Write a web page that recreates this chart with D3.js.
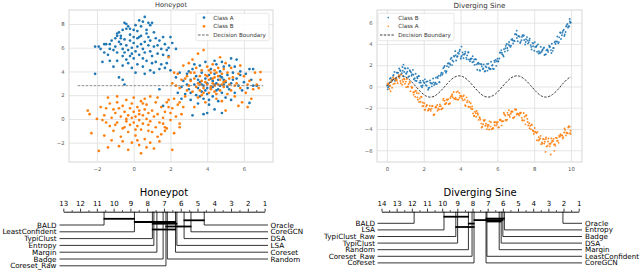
<!DOCTYPE html>
<html><head><meta charset="utf-8">
<script src="https://cdn.jsdelivr.net/npm/d3@7"></script>
<style>body{margin:0;background:#fff}svg{display:block}text{font-family:"DejaVu Sans",sans-serif}</style>
</head><body><svg id="c" width="640" height="271"></svg>
<script>
// ---------------- DATA ----------------
const honeypotTitle = "Honeypot";
const sineTitle = "Diverging Sine";
const honeypotXTicks = [-2, 0, 2, 4, 6];
const honeypotYTicks = [-2, 0, 2, 4, 6, 8];
const sineXTicks = [0, 2, 4, 6, 8, 10];
const sineYTicks = [-6, -4, -2, 0, 2, 4, 6];

const honeypotClassA = [
[-1.9,6.1],[-1.5,6.3],[-1.3,6.3],[-1.6,5.6],[-1.4,5.4],[-1.3,4.9],[-1.7,4.8],[-2.1,3.8],[-1.1,5.8],[-1.0,6.8],[-0.9,7.2],[-0.8,7.3],[-0.7,7.0],[-0.6,7.5],[-0.5,8.1],[-0.4,7.6],[-0.3,7.8],[-0.2,7.1],[0.0,7.5],[0.1,7.9],[0.2,7.4],[0.4,7.8],[0.5,8.2],[0.6,8.6],[0.8,8.1],[0.9,7.9],[1.0,8.1],[0.7,7.5],[0.3,6.9],[1.1,7.3],[1.2,6.8],[1.4,6.6],[1.6,6.9],[1.7,6.3],[1.9,6.0],[2.1,6.4],[2.3,5.9],[1.5,5.9],[1.3,5.5],[1.1,6.1],[0.9,6.6],[0.8,6.2],[0.6,6.5],[0.5,5.9],[0.4,6.3],[0.2,6.1],[0.1,5.7],[0.0,6.4],[-0.1,6.0],[-0.2,6.6],[-0.3,5.8],[-0.4,6.2],[-0.5,6.7],[-0.6,5.9],[-0.7,6.3],[-0.8,6.5],[-0.9,5.6],[-1.0,6.1],[-1.2,6.6],[-0.6,5.3],[-0.4,5.0],[-0.2,5.3],[0.0,5.1],[0.3,5.4],[0.5,5.1],[0.7,4.9],[1.0,5.3],[1.2,4.8],[1.5,4.6],[1.7,4.3],[1.8,4.7],[1.4,4.2],[0.9,4.1],[0.5,4.4],[0.2,4.6],[-0.1,4.3],[-0.3,4.7],[-0.6,4.5],[-0.9,4.9],[-1.1,4.4],[-0.8,3.5],[-0.6,3.3],[0.1,3.9],[0.6,3.8],[1.1,3.9],[-0.5,2.9],[1.6,5.4],[1.9,5.3],[2.0,6.9],[1.8,5.8],[-1.8,5.9],[-2.1,6.1],[-1.6,6.3],[-0.4,8.0],[0.3,8.3],[0.7,7.2],[-0.2,7.6],[0.4,7.0],[-0.7,6.8],[0.9,5.7],[0.2,6.8],[-0.1,5.5],[0.6,5.6],[1.3,6.2],[-0.9,7.0],[-1.3,5.9],[0.0,6.9],[0.8,6.9],[-0.5,5.6],[1.0,4.7],
[2.0,4.1],[2.3,3.5],[2.5,3.9],[2.6,2.7],[2.7,3.2],[2.8,2.1],[2.9,3.8],[3.0,2.5],[3.1,1.6],[3.1,3.3],[3.2,4.2],[3.3,2.9],[3.4,2.0],[3.4,3.6],[3.5,1.3],[3.5,2.6],[3.6,4.5],[3.6,3.1],[3.7,2.3],[3.7,3.9],[3.8,1.7],[3.8,2.8],[3.9,3.4],[3.9,4.8],[4.0,2.1],[4.0,3.0],[4.1,3.7],[4.1,1.2],[4.2,2.6],[4.2,4.2],[4.3,3.2],[4.3,1.9],[4.4,2.9],[4.4,3.8],[4.5,2.4],[4.5,4.6],[4.6,3.3],[4.6,1.5],[4.7,2.8],[4.7,4.0],[4.8,3.5],[4.8,2.2],[4.9,2.9],[4.9,4.4],[5.0,3.1],[5.0,1.8],[5.1,3.7],[5.2,2.5],[5.2,4.5],[5.3,3.0],[5.4,3.9],[5.5,2.2],[5.6,3.4],[5.7,2.8],[5.8,4.0],[6.0,3.1],[6.2,2.6],[6.4,3.3],[5.3,5.1],[5.6,5.0],[6.3,1.35],[6.3,4.2],[3.2,0.3],[3.8,0.4],[4.4,0.8],[4.8,0.5],[2.4,2.2],[1.4,2.5],[1.6,1.1],[3.0,4.0],[3.3,4.6],[4.2,3.4],[4.0,2.6],[3.7,2.9],[4.5,3.0],[4.3,2.7],[4.6,2.5],[3.9,2.4],[4.9,3.3],[5.1,2.7],[5.4,3.3],[5.9,2.4],[6.5,2.8],[3.5,3.3],[4.1,1.6],[3.6,1.9],[2.9,2.9],[4.7,3.6],[5.3,1.6],[5.8,3.7],[4.4,4.9],[4.8,4.8],[3.1,2.2],[2.6,1.7],[5.5,4.4],[6.1,3.8],[6.5,4.2],[6.7,2.8],[4.0,0.5]
];
const honeypotClassB = [
[-2.5,0.7],[-2.4,0.4],[-2.3,-1.2],[-1.7,-0.1],[-1.6,0.3],[-1.5,0.9],[-1.4,1.8],[-1.3,-0.6],[-1.2,0.1],[-1.1,-1.0],[-1.0,0.5],[-0.9,1.4],[-0.9,-0.3],[-0.8,0.9],[-0.7,-1.5],[-0.7,0.2],[-0.6,1.1],[-0.5,-0.7],[-0.5,0.6],[-0.4,1.6],[-0.4,-0.2],[-0.3,0.3],[-0.3,-1.1],[-0.2,0.9],[-0.2,-0.5],[-0.1,0.1],[-0.1,1.3],[0.0,-0.3],[0.0,0.6],[0.1,-1.4],[0.1,0.2],[0.2,1.0],[0.2,-0.6],[0.3,0.4],[0.3,-0.1],[0.4,1.5],[0.4,-0.9],[0.5,0.3],[0.5,-0.4],[0.6,0.8],[0.6,-1.7],[0.7,0.0],[0.7,1.2],[0.8,-0.5],[0.8,0.5],[0.9,1.9],[0.9,-0.2],[1.0,0.7],[1.0,-1.1],[1.1,0.2],[1.2,1.4],[1.2,-0.7],[1.3,0.4],[1.4,-0.3],[1.5,1.0],[1.5,-1.3],[1.6,0.1],[1.7,0.6],[1.8,-0.8],[1.9,1.6],[2.0,-0.1],[2.1,0.9],[2.3,0.2],[2.5,-0.4],[2.5,-0.7],[2.1,-2.6],[-1.9,-2.7],[-1.4,-2.4],[-0.8,-2.3],[-0.3,-2.6],[-0.1,-2.0],[0.3,-2.2],[0.4,-2.9],[0.7,-2.4],[1.1,-2.5],[1.4,-1.9],[0.9,-2.0],[-1.2,-1.8],[-1.6,-1.4],[-0.6,-1.9],[0.2,-1.8],[1.3,-1.5],[1.7,-1.0],[2.2,-1.2],[-1.8,1.0],[-1.3,1.3],[-0.9,1.9],[0.0,1.8],[0.6,1.7],[1.3,1.8],[1.8,1.4],[2.2,1.7],[2.4,1.2],[-2.0,0.0],[-1.5,-0.3],[-1.0,-0.5],[-0.4,0.0],[0.3,0.7],[0.8,-1.0],[1.6,-0.4],[2.0,0.5],[-0.6,-0.8],[0.1,-0.9],[0.5,1.3],[-1.1,0.8],[1.9,1.0],[2.7,1.0],[2.6,0.4],
[1.9,5.2],[2.2,3.9],[2.1,3.0],[2.4,3.8],[2.5,2.6],[2.6,3.3],[2.7,4.5],[2.8,1.9],[2.9,3.6],[3.0,2.8],[3.0,4.7],[3.1,3.2],[3.2,2.3],[3.2,5.0],[3.3,3.9],[3.4,2.7],[3.4,4.3],[3.5,3.0],[3.5,1.8],[3.6,3.6],[3.6,2.4],[3.7,4.1],[3.7,3.2],[3.8,5.8],[3.8,2.6],[3.9,3.7],[3.9,1.4],[4.0,4.4],[4.0,2.9],[4.1,3.3],[4.1,2.2],[4.2,3.9],[4.2,2.7],[4.3,4.6],[4.3,3.0],[4.4,2.3],[4.4,3.5],[4.5,1.7],[4.5,3.9],[4.6,2.9],[4.6,4.3],[4.7,2.4],[4.7,3.3],[4.8,1.5],[4.8,3.8],[4.9,2.7],[4.9,4.2],[5.0,3.2],[5.1,2.1],[5.1,3.9],[5.2,2.9],[5.3,4.3],[5.3,2.4],[5.4,3.5],[5.5,1.9],[5.6,3.0],[5.7,3.8],[5.8,2.6],[5.9,1.4],[6.0,3.6],[6.1,2.2],[6.3,3.2],[6.5,2.5],[6.6,3.9],[6.8,2.6],[6.9,3.95],[6.7,2.9],[6.2,1.0],[5.0,0.7],[3.3,1.0],[2.5,1.4],[1.7,-0.7],[3.5,5.5],[4.7,5.2],[4.1,4.1],[3.9,3.1],[4.4,2.8],[4.0,3.6],[3.6,2.9],[4.3,3.4],[4.9,3.1],[3.8,2.2],[4.6,3.6],[5.2,3.4],[3.3,3.4],[4.2,2.5],[5.5,2.8],[2.9,2.4],[6.4,1.7],[5.8,4.5],[4.5,2.1],[3.1,3.9],[2.3,2.8],[5.7,1.1],[4.8,2.9],[3.7,2.0],[5.0,4.7],[4.4,4.1],[6.9,3.3],[2.8,3.4],[6.2,2.9]
];
const honeypotBoundary = [[-3.05, 2.8], [7.05, 2.8]];

const sineClassB = [
[0.01,0.12],[0.11,0.00],[0.21,0.80],[0.31,0.64],[0.41,1.36],[0.51,0.73],[0.61,1.28],[0.71,1.55],[0.81,1.25],[0.91,0.95],
[1.01,1.69],[1.11,1.38],[1.21,0.97],[1.31,1.34],[1.41,1.56],[1.51,0.78],[1.61,0.52],[1.71,0.97],[1.81,0.53],[1.91,-0.07],
[2.01,0.39],[2.11,0.13],[2.21,0.48],[2.31,-0.11],[2.41,0.29],[2.51,0.75],[2.61,0.24],[2.71,0.24],[2.81,1.01],[2.91,1.00],
[3.01,1.10],[3.11,1.83],[3.21,1.29],[3.31,2.15],[3.41,2.17],[3.51,2.70],[3.61,2.35],[3.71,3.32],[3.81,2.78],[3.91,3.08],
[4.01,2.61],[4.11,3.21],[4.21,3.00],[4.31,2.69],[4.41,3.20],[4.51,2.37],[4.61,2.63],[4.71,2.32],[4.81,2.57],[4.91,1.57],
[5.01,2.14],[5.11,2.12],[5.21,1.63],[5.31,1.40],[5.41,1.80],[5.51,2.14],[5.61,1.61],[5.71,1.96],[5.81,1.64],[5.91,2.50],
[6.01,2.60],[6.11,2.63],[6.21,3.42],[6.31,2.93],[6.41,3.28],[6.51,3.99],[6.61,3.95],[6.71,3.72],[6.81,4.46],[6.91,4.30],
[7.01,4.92],[7.11,4.25],[7.21,4.67],[7.31,4.34],[7.41,4.75],[7.51,3.95],[7.61,4.64],[7.71,4.16],[7.81,3.89],[7.91,4.10],
[8.01,3.36],[8.11,3.74],[8.21,3.96],[8.31,3.13],[8.41,3.26],[8.51,3.59],[8.61,3.02],[8.71,3.48],[8.81,3.83],[8.91,3.42],
[9.01,3.35],[9.11,4.15],[9.21,4.22],[9.31,4.07],[9.41,5.08],[9.51,4.82],[9.61,5.33],[9.71,5.12],[9.81,5.87],[9.91,5.65],[9.99,6.01],
[0.06,-0.08],[0.16,0.72],[0.26,0.54],[0.36,1.09],[0.46,0.61],[0.56,1.30],[0.66,1.70],[0.76,1.14],[0.86,1.49],[0.96,1.72],
[1.06,1.25],[1.16,0.88],[1.26,1.44],[1.36,1.15],[1.46,0.68],[1.56,1.19],[1.66,0.78],[1.76,0.36],[1.86,0.05],[1.96,0.54],
[2.06,0.67],[2.16,0.07],[2.26,-0.15],[2.36,0.36],[2.46,0.28],[2.56,0.13],[2.66,0.83],[2.76,0.79],[2.86,0.40],[2.96,1.30],
[3.06,1.72],[3.16,1.45],[3.26,1.91],[3.36,1.82],[3.46,2.59],[3.56,2.45],[3.66,2.82],[3.76,2.44],[3.86,3.15],[3.96,3.46],
[4.06,2.88],[4.16,2.66],[4.26,3.26],[4.36,2.92],[4.46,2.54],[4.56,2.61],[4.66,2.85],[4.76,2.03],[4.86,2.08],[4.96,2.23],
[5.06,1.48],[5.16,1.87],[5.26,2.06],[5.36,1.88],[5.46,1.49],[5.56,1.67],[5.66,2.32],[5.76,1.67],[5.86,2.29],[5.96,2.37],
[6.06,2.37],[6.16,3.18],[6.26,3.04],[6.36,3.50],[6.46,3.83],[6.56,3.38],[6.66,3.84],[6.76,4.40],[6.86,4.04],[6.96,4.91],
[7.06,4.56],[7.16,4.73],[7.26,4.19],[7.36,4.83],[7.46,4.37],[7.56,4.44],[7.66,4.03],[7.76,4.50],[7.86,3.48],[7.96,4.05],
[8.06,3.72],[8.16,3.27],[8.26,3.31],[8.36,3.72],[8.46,3.45],[8.56,2.96],[8.66,3.39],[8.76,3.25],[8.86,3.77],[8.96,4.02],
[9.06,3.62],[9.16,4.00],[9.26,4.70],[9.36,4.62],[9.46,4.46],[9.56,5.22],[9.66,4.88],[9.76,5.77],[9.86,5.66],[9.96,5.98],
[0.04,-0.27],[0.14,0.39],[0.24,0.47],[0.34,1.01],[0.44,0.54],[0.54,1.29],[0.64,0.93],[0.74,1.45],[0.84,1.83],[0.94,1.37],
[1.04,1.19],[1.14,1.71],[1.24,1.52],[1.34,1.01],[1.44,1.10],[1.54,0.55],[1.64,0.89],[1.74,0.98],[1.84,0.36],[1.94,0.09],
[2.04,0.32],[2.14,0.44],[2.24,-0.31],[2.34,0.57],[2.44,0.01],[2.54,0.39],[2.64,0.35],[2.74,0.90],[2.84,0.41],[2.94,1.16],
[3.04,1.26],[3.14,1.94],[3.24,1.43],[3.34,2.19],[3.44,2.04],[3.54,2.01],[3.64,2.87],[3.74,2.94],[3.84,2.84],[3.94,3.31],
[4.04,2.78],[4.14,3.00],[4.24,3.09],[4.34,2.55],[4.44,3.23],[4.54,2.54],[4.64,2.28],[4.74,2.54],[4.84,2.54],[4.94,2.14],
[5.04,1.54],[5.14,2.06],[5.24,1.69],[5.34,1.46],[5.44,2.12],[5.54,1.77],[5.64,1.64],[5.74,2.02],[5.84,2.42],[5.94,1.94],
[6.04,2.35],[6.14,3.19],[6.24,3.18],[6.34,2.82],[6.44,3.59],[6.54,3.62],[6.64,4.18],[6.74,3.83],[6.84,4.33],[6.94,4.26],
[7.04,4.87],[7.14,4.75],[7.24,4.09],[7.34,4.66],[7.44,4.82],[7.54,4.18],[7.64,4.32],[7.74,4.34],[7.84,3.72],[7.94,3.78],
[8.04,4.17],[8.14,3.83],[8.24,3.11],[8.34,3.19],[8.44,3.41],[8.54,3.66],[8.64,3.02],[8.74,3.41],[8.84,3.68],[8.94,3.15],
[9.04,3.62],[9.14,4.24],[9.24,4.23],[9.34,4.16],[9.44,5.05],[9.54,5.04],[9.64,4.75],[9.74,5.64],[9.84,5.53],[9.94,6.12],
[9.93,6.35],[4.05,3.75],[7.05,5.25],[0.9,2.05]
];
const sineClassA = [
[0.03,0.27],[0.13,-0.24],[0.23,0.43],[0.33,0.84],[0.43,0.29],[0.53,0.67],[0.63,0.93],[0.73,0.51],[0.83,0.16],[0.93,0.74],
[1.03,0.46],[1.13,-0.02],[1.23,0.45],[1.33,-0.02],[1.43,-0.54],[1.53,-0.96],[1.63,-0.61],[1.73,-0.65],[1.83,-1.43],[1.93,-1.86],
[2.03,-1.58],[2.13,-1.89],[2.23,-2.27],[2.33,-1.81],[2.43,-2.08],[2.53,-2.69],[2.63,-1.98],[2.73,-1.74],[2.83,-2.17],[2.93,-1.85],
[3.03,-2.04],[3.13,-1.34],[3.23,-1.53],[3.33,-1.19],[3.43,-1.58],[3.53,-0.85],[3.63,-0.52],[3.73,-1.06],[3.83,-1.24],[3.93,-0.61],
[4.03,-0.92],[4.13,-1.29],[4.23,-1.23],[4.33,-1.02],[4.43,-1.89],[4.53,-1.92],[4.63,-1.87],[4.73,-2.75],[4.83,-2.51],[4.93,-2.51],
[5.03,-2.88],[5.13,-3.49],[5.23,-3.55],[5.33,-3.14],[5.43,-4.01],[5.53,-3.62],[5.63,-3.77],[5.73,-3.98],[5.83,-3.36],[5.93,-3.68],
[6.03,-3.35],[6.13,-3.12],[6.23,-3.66],[6.33,-3.26],[6.43,-2.73],[6.53,-3.12],[6.63,-2.24],[6.73,-2.57],[6.83,-2.37],[6.93,-2.87],
[7.03,-2.19],[7.13,-2.62],[7.23,-2.54],[7.33,-2.95],[7.43,-2.50],[7.53,-3.56],[7.63,-3.05],[7.73,-3.46],[7.83,-4.03],[7.93,-4.13],
[8.03,-3.90],[8.13,-4.38],[8.23,-5.09],[8.33,-4.88],[8.43,-5.26],[8.53,-4.97],[8.63,-4.95],[8.73,-5.56],[8.83,-5.39],[8.93,-4.88],
[9.03,-5.14],[9.13,-5.46],[9.23,-4.85],[9.33,-5.30],[9.43,-4.48],[9.53,-4.62],[9.63,-4.32],[9.73,-4.60],[9.83,-4.41],[9.93,-3.78],[9.98,-4.15],
[0.08,0.28],[0.18,0.07],[0.28,-0.12],[0.38,0.75],[0.48,0.57],[0.58,0.30],[0.68,0.80],[0.78,1.14],[0.88,0.45],[0.98,0.25],
[1.08,0.71],[1.18,0.24],[1.28,-0.44],[1.38,-0.10],[1.48,-0.54],[1.58,-0.40],[1.68,-1.25],[1.78,-1.13],[1.88,-0.99],[1.98,-1.84],
[2.08,-2.18],[2.18,-1.75],[2.28,-2.09],[2.38,-2.29],[2.48,-1.84],[2.58,-2.63],[2.68,-1.96],[2.78,-2.10],[2.88,-1.68],[2.98,-2.09],
[3.08,-1.14],[3.18,-1.65],[3.28,-1.28],[3.38,-1.65],[3.48,-0.93],[3.58,-1.01],[3.68,-1.17],[3.78,-0.53],[3.88,-1.23],[3.98,-0.87],
[4.08,-1.12],[4.18,-0.84],[4.28,-1.84],[4.38,-1.34],[4.48,-1.46],[4.58,-2.10],[4.68,-2.53],[4.78,-2.37],[4.88,-2.31],[4.98,-3.14],
[5.08,-3.12],[5.18,-3.78],[5.28,-3.25],[5.38,-3.49],[5.48,-3.79],[5.58,-3.28],[5.68,-4.03],[5.78,-3.91],[5.88,-3.37],[5.98,-3.53],
[6.08,-3.84],[6.18,-3.13],[6.28,-3.28],[6.38,-2.61],[6.48,-3.20],[6.58,-2.67],[6.68,-2.86],[6.78,-2.32],[6.88,-2.97],[6.98,-2.16],
[7.08,-2.53],[7.18,-2.72],[7.28,-2.47],[7.38,-3.19],[7.48,-2.85],[7.58,-2.71],[7.68,-3.66],[7.78,-3.70],[7.88,-3.61],[7.98,-4.44],
[8.08,-4.29],[8.18,-4.27],[8.28,-5.01],[8.38,-5.42],[8.48,-4.94],[8.58,-5.19],[8.68,-5.64],[8.78,-4.89],[8.88,-5.40],[8.98,-5.09],
[9.08,-5.46],[9.18,-4.83],[9.28,-5.10],[9.38,-4.74],[9.48,-4.57],[9.58,-4.78],[9.68,-4.08],[9.78,-4.35],[9.88,-3.73],[9.98,-4.47],
[0.05,0.18],[0.15,0.10],[0.25,0.63],[0.35,0.22],[0.45,0.74],[0.55,0.53],[0.65,1.08],[0.75,0.30],[0.85,0.63],[0.95,0.68],
[1.05,-0.07],[1.15,0.00],[1.25,0.34],[1.35,-0.13],[1.45,-0.77],[1.55,-0.43],[1.65,-1.02],[1.75,-1.46],[1.85,-0.95],[1.95,-1.50],
[2.05,-2.19],[2.15,-1.76],[2.25,-2.23],[2.35,-2.17],[2.45,-1.85],[2.55,-2.65],[2.65,-1.89],[2.75,-2.28],[2.85,-1.87],[2.95,-2.15],
[3.05,-1.28],[3.15,-1.66],[3.25,-1.21],[3.35,-1.64],[3.45,-1.09],[3.55,-0.73],[3.65,-1.14],[3.75,-1.20],[3.85,-0.46],[3.95,-1.05],
[4.05,-0.92],[4.15,-0.93],[4.25,-1.77],[4.35,-1.49],[4.45,-1.94],[4.55,-1.57],[4.65,-2.12],[4.75,-2.78],[4.85,-2.84],[4.95,-2.66],
[5.05,-2.97],[5.15,-3.85],[5.25,-3.16],[5.35,-3.69],[5.45,-3.61],[5.55,-4.05],[5.65,-3.36],[5.75,-3.94],[5.85,-3.65],[5.95,-3.37],
[6.05,-3.85],[6.15,-3.20],[6.25,-3.27],[6.35,-2.47],[6.45,-3.14],[6.55,-2.48],[6.65,-2.68],[6.75,-2.39],[6.85,-2.95],[6.95,-2.15],
[7.05,-2.65],[7.15,-2.58],[7.25,-2.46],[7.35,-3.18],[7.45,-3.19],[7.55,-2.75],[7.65,-3.34],[7.75,-3.93],[7.85,-3.58],[7.95,-4.21],
[8.05,-4.26],[8.15,-5.05],[8.25,-4.77],[8.35,-4.64],[8.45,-5.37],[8.55,-5.37],[8.65,-4.80],[8.75,-5.17],[8.85,-5.63],[8.95,-5.26],
[9.05,-4.93],[9.15,-5.58],[9.25,-5.13],[9.35,-4.63],[9.45,-4.64],[9.55,-4.89],[9.65,-3.95],[9.75,-4.35],[9.85,-3.86],[9.95,-4.36],
[8.9,-6.4],[8.62,-6.15],[9.1,-6.05],[0.2,-0.45]
];
const sineBoundary = [[0,0],[0.1,0.199],[0.2,0.389],[0.3,0.565],[0.4,0.717],[0.5,0.841],[0.6,0.932],[0.7,0.985],[0.8,1.0],[0.9,0.974],[1.0,0.909],[1.1,0.808],[1.2,0.675],[1.3,0.516],[1.4,0.335],[1.5,0.141],[1.6,-0.058],[1.7,-0.256],[1.8,-0.443],[1.9,-0.612],[2.0,-0.757],[2.1,-0.872],[2.2,-0.952],[2.3,-0.994],[2.4,-0.996],[2.5,-0.959],[2.6,-0.883],[2.7,-0.773],[2.8,-0.631],[2.9,-0.465],[3.0,-0.279],[3.1,-0.083],[3.2,0.117],[3.3,0.312],[3.4,0.494],[3.5,0.657],[3.6,0.794],[3.7,0.899],[3.8,0.968],[3.9,0.999],[4.0,0.989],[4.1,0.941],[4.2,0.855],[4.3,0.734],[4.4,0.585],[4.5,0.412],[4.6,0.223],[4.7,0.025],[4.8,-0.174],[4.9,-0.366],[5.0,-0.544],[5.1,-0.7],[5.2,-0.828],[5.3,-0.925],[5.4,-0.981],[5.5,-1.0],[5.6,-0.978],[5.7,-0.918],[5.8,-0.824],[5.9,-0.697],[6.0,-0.537],[6.1,-0.354],[6.2,-0.158],[6.3,0.04],[6.4,0.237],[6.5,0.42],[6.6,0.592],[6.7,0.74],[6.8,0.859],[6.9,0.945],[7.0,0.991],[7.1,0.998],[7.2,0.965],[7.3,0.893],[7.4,0.786],[7.5,0.65],[7.6,0.489],[7.7,0.31],[7.8,0.117],[7.9,-0.081],[8.0,-0.288],[8.1,-0.475],[8.2,-0.645],[8.3,-0.788],[8.4,-0.896],[8.5,-0.961],[8.6,-0.998],[8.7,-0.99],[8.8,-0.942],[8.9,-0.856],[9.0,-0.751],[9.1,-0.612],[9.2,-0.447],[9.3,-0.265],[9.4,-0.072],[9.5,0.15],[9.6,0.34],[9.7,0.523],[9.8,0.688],[9.9,0.822],[10.0,0.913]];

// Critical difference diagrams
const cdHoneypotLeft = ["BALD","LeastConfident","TypiClust","Entropy","Margin","Badge","Coreset_Raw"];
const cdHoneypotLeftRanks = [10.57, 8.76, 7.69, 7.60, 7.42, 7.05, 6.88];
const cdHoneypotRight = ["Oracle","CoreGCN","DSA","LSA","Coreset","Random"];
const cdHoneypotRightRanks = [4.60, 5.39, 5.80, 6.23, 6.31, 6.80];
const cdHoneypotCliques = [[10.57, 8.76], [5.80, 4.60], [8.76, 6.31], [7.69, 6.23], [6.88, 5.39], [7.69, 6.31]];

const cdSineLeft = ["BALD","LSA","TypiClust_Raw","TypiClust","Random","Coreset_Raw","Coreset"];
const cdSineLeftRanks = [11.85, 9.88, 9.10, 8.98, 8.27, 8.03, 7.90];
const cdSineRight = ["Oracle","Entropy","Badge","DSA","Margin","LeastConfident","CoreGCN"];
const cdSineRightRanks = [2.04, 5.90, 6.00, 6.11, 6.24, 7.05, 7.11];
const cdSineCliques = [[9.88, 8.27], [7.11, 5.90], [7.90, 6.00], [7.05, 6.11], [8.27, 7.90], [9.10, 7.90]];

// ---------------- DRAWING ----------------
const svg = d3.select("#c");
const BLUE = "#1f77b4", ORANGE = "#ff7f0e";
const fmt = d => d < 0 ? "\u2212" + Math.abs(d) : String(d);

function scatterPanel(cfg) {
  const x = d3.scaleLinear().domain(cfg.xDomain).range(cfg.xRange);
  const y = d3.scaleLinear().domain(cfg.yDomain).range(cfg.yRange);
  const g = svg.append("g");
  const [x0, x1] = cfg.xRange, [y1, y0] = cfg.yRange;
  const clipId = "clip" + cfg.id;
  g.append("clipPath").attr("id", clipId).append("rect")
    .attr("x", x0).attr("y", y0).attr("width", x1 - x0).attr("height", y1 - y0);

  const gx = g.append("g").attr("transform", `translate(0,${y1})`)
    .call(d3.axisBottom(x).tickValues(cfg.xTicks).tickSize(-(y1 - y0)).tickSizeOuter(0).tickPadding(4).tickFormat(fmt));
  const gy = g.append("g").attr("transform", `translate(${x0},0)`)
    .call(d3.axisLeft(y).tickValues(cfg.yTicks).tickSize(-(x1 - x0)).tickSizeOuter(0).tickPadding(4.5).tickFormat(fmt));
  [gx, gy].forEach(a => {
    a.select(".domain").remove();
    a.selectAll("line").attr("stroke", "#e2e2e2").attr("stroke-width", 0.9);
    a.selectAll("text").attr("font-size", 5.3).attr("fill", "#555").attr("font-family", "DejaVu Sans");
  });
  gx.selectAll("text").attr("dy", "0.9em");
  g.append("rect").attr("x", x0).attr("y", y0).attr("width", x1 - x0).attr("height", y1 - y0)
    .attr("fill", "none").attr("stroke", "#d2d2d2").attr("stroke-width", 0.9);

  const pg = g.append("g").attr("clip-path", `url(#${clipId})`);
  cfg.series.forEach(s => {
    pg.append("g").selectAll("circle").data(s.data).join("circle")
      .attr("cx", d => x(d[0])).attr("cy", d => y(d[1])).attr("r", s.r)
      .attr("fill", s.color).attr("fill-opacity", s.opacity);
  });
  pg.append("path").datum(cfg.boundary)
    .attr("d", d3.line().x(d => x(d[0])).y(d => y(d[1])).curve(d3.curveCatmullRom))
    .attr("fill", "none").attr("stroke", cfg.boundaryColor).attr("stroke-width", cfg.boundaryWidth)
    .attr("stroke-dasharray", cfg.boundaryDash);

  g.append("text").attr("x", (x0 + x1) / 2).attr("y", y0 - 5).attr("text-anchor", "middle")
    .attr("dominant-baseline", "central").attr("font-size", cfg.titleSize).attr("fill", "#333").text(cfg.title);

  const L = cfg.legend;
  g.append("rect").attr("x", L.x).attr("y", L.y).attr("width", L.w).attr("height", L.h).attr("rx", 1.5)
    .attr("fill", "#fff").attr("fill-opacity", 0.85).attr("stroke", "#dddddd").attr("stroke-width", 0.7);
  L.items.forEach((it, i) => {
    const yy = L.y + 4.3 + i * 8.7;
    if (it.type === "dot") {
      g.append("circle").attr("cx", L.markX).attr("cy", yy).attr("r", it.r).attr("fill", it.color);
    } else {
      g.append("line").attr("x1", L.lineX0).attr("x2", L.lineX1).attr("y1", yy).attr("y2", yy)
        .attr("stroke", it.color).attr("stroke-width", 0.9).attr("stroke-dasharray", it.dash);
    }
    g.append("text").attr("x", L.textX).attr("y", yy).attr("dominant-baseline", "central")
      .attr("font-size", 5.6).attr("fill", "#333").text(it.label);
  });
}

scatterPanel({
  id: "hp", title: honeypotTitle, titleSize: 6.6,
  xDomain: [-3.52, 7.58], xRange: [69, 273], yDomain: [-3.63, 9.18], yRange: [162, 10],
  xTicks: honeypotXTicks, yTicks: honeypotYTicks,
  series: [{data: honeypotClassA, color: BLUE, r: 1.35, opacity: 1},
           {data: honeypotClassB, color: ORANGE, r: 1.35, opacity: 1}],
  boundary: honeypotBoundary, boundaryColor: "#7f7f7f", boundaryWidth: 0.9, boundaryDash: "2.6,1.4",
  legend: {x: 196, y: 13.3, w: 73, h: 27.4, markX: 204, lineX0: 198, lineX1: 209.5, textX: 213.3,
    items: [{type: "dot", r: 1.35, color: BLUE, label: "Class A"},
            {type: "dot", r: 1.35, color: ORANGE, label: "Class B"},
            {type: "line", color: "#555", dash: "2.6,1.4", label: "Decision Boundary"}]}
});

scatterPanel({
  id: "ds", title: sineTitle, titleSize: 7.1,
  xDomain: [-0.54, 10.6], xRange: [377, 582], yDomain: [-7.1, 7.19], yRange: [162, 10],
  xTicks: sineXTicks, yTicks: sineYTicks,
  series: [{data: sineClassB, color: BLUE, r: 0.95, opacity: 0.9},
           {data: sineClassA, color: ORANGE, r: 0.95, opacity: 0.9}],
  boundary: sineBoundary, boundaryColor: "#222", boundaryWidth: 0.9, boundaryDash: "2.4,1.4",
  legend: {x: 378, y: 13.3, w: 76, h: 27.4, markX: 388.3, lineX0: 380, lineX1: 395, textX: 398.3,
    items: [{type: "dot", r: 0.8, color: BLUE, label: "Class B"},
            {type: "dot", r: 0.8, color: ORANGE, label: "Class A"},
            {type: "line", color: "#222", dash: "2.4,1.4", label: "Decision Boundary"}]}
});

function cdPanel(cfg) {
  const r = d3.scaleLinear().domain([cfg.maxRank, 1]).range(cfg.range);
  const g = svg.append("g");
  const axisY = 211.7;
  g.append("text").attr("x", (cfg.range[0] + cfg.range[1]) / 2).attr("y", 192.7)
    .attr("text-anchor", "middle").attr("dominant-baseline", "central")
    .attr("font-size", 10).attr("fill", "#000").text(cfg.title);

  const major = g.append("g").attr("transform", `translate(0,${axisY})`)
    .call(d3.axisTop(r).tickValues(d3.range(1, cfg.maxRank + 1)).tickSize(3).tickSizeOuter(0).tickPadding(2.6).tickFormat(d3.format("d")));
  major.select(".domain").attr("stroke", "#000").attr("stroke-width", 0.9);
  major.selectAll("line").attr("stroke", "#000").attr("stroke-width", 0.8);
  major.selectAll("text").attr("font-size", 7).attr("fill", "#000").attr("font-family", "DejaVu Sans");
  const minor = g.append("g").attr("transform", `translate(0,${axisY})`)
    .call(d3.axisTop(r).tickValues(d3.range(1.5, cfg.maxRank, 1)).tickSize(1.5).tickSizeOuter(0).tickFormat(""));
  minor.select(".domain").remove();
  minor.selectAll("line").attr("stroke", "#000").attr("stroke-width", 0.8);

  const rowY = i => cfg.row0 + i * cfg.rowStep;
  cfg.left.forEach((name, i) => {
    const xr = r(cfg.leftRanks[i]);
    g.append("path").attr("d", `M${xr},${axisY}V${rowY(i)}H${cfg.leftLineX}`)
      .attr("fill", "none").attr("stroke", "#000").attr("stroke-width", 0.8);
    g.append("text").attr("x", cfg.leftTextX).attr("y", rowY(i)).attr("text-anchor", "end")
      .attr("dominant-baseline", "central").attr("font-size", 7.2).text(name);
  });
  cfg.right.forEach((name, i) => {
    const xr = r(cfg.rightRanks[i]);
    g.append("path").attr("d", `M${xr},${axisY}V${rowY(i)}H${cfg.rightLineX}`)
      .attr("fill", "none").attr("stroke", "#000").attr("stroke-width", 0.8);
    g.append("text").attr("x", cfg.rightTextX).attr("y", rowY(i)).attr("text-anchor", "start")
      .attr("dominant-baseline", "central").attr("font-size", 7.2).text(name);
  });
  cfg.cliques.forEach((c, i) => {
    g.append("line").attr("x1", r(c[0]) - 0.5).attr("x2", r(c[1]) + 0.5)
      .attr("y1", cfg.cliqueY[i]).attr("y2", cfg.cliqueY[i])
      .attr("stroke", "#000").attr("stroke-width", 1.8);
  });
}

cdPanel({
  title: "Honeypot", maxRank: 13, range: [63.3, 264.6],
  left: cdHoneypotLeft, leftRanks: cdHoneypotLeftRanks,
  right: cdHoneypotRight, rightRanks: cdHoneypotRightRanks,
  cliques: cdHoneypotCliques, cliqueY: [218.8, 220.3, 222.0, 223.7, 226.5, 229.5],
  row0: 225, rowStep: 6.8, leftLineX: 59.5, leftTextX: 56.5, rightLineX: 268, rightTextX: 270.5
});
cdPanel({
  title: "Diverging Sine", maxRank: 14, range: [381.5, 578.7],
  left: cdSineLeft, leftRanks: cdSineLeftRanks,
  right: cdSineRight, rightRanks: cdSineRightRanks,
  cliques: cdSineCliques, cliqueY: [216.7, 218.6, 220.1, 221.5, 223.6, 227.0],
  row0: 223.3, rowStep: 6.6, leftLineX: 377.5, leftTextX: 375, rightLineX: 582, rightTextX: 585
});
</script></body></html>
